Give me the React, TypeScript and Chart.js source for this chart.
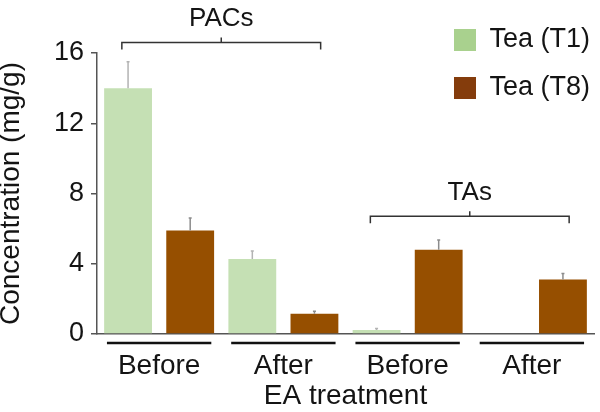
import React, { useEffect, useRef } from "react";
import { Chart, registerables } from "chart.js";

Chart.register(...registerables);

const categories = ["Before", "After", "Before", "After"];
const seriesLabels = ["Tea (T1)", "Tea (T8)"];
const t1Values = [14.0, 4.27, 0.23, 0];
const t8Values = [5.9, 1.15, 4.8, 3.1];
const t1Errors = [1.5, 0.45, 0.08, 0];
const t8Errors = [0.7, 0.15, 0.55, 0.35];
const yTicks = [0, 4, 8, 12, 16];
const xTitle = "EA treatment";
const yTitle = "Concentration (mg/g)";
const brackets = [
  { label: "PACs", from: 0, to: 1, level: 16.6 },
  { label: "TAs", from: 2, to: 3, level: 6.7 },
];

const FONT = "'Liberation Sans', Arial, Helvetica, sans-serif";
const barColors = ["#c5e0b4", "#964f00"];
const legendColors = ["#a9d18e", "#843c0c"];
const errColors = ["#b3b3b3", "#8c8c8c"];
const TEXT = "#141414";

const errorBarPlugin = {
  id: "errorBars",
  afterDatasetsDraw(chart: any) {
    const ctx = chart.ctx;
    const y = chart.scales.y;
    const errs = [t1Errors, t8Errors];
    const vals = [t1Values, t8Values];
    chart.data.datasets.forEach((_: any, di: number) => {
      const meta = chart.getDatasetMeta(di);
      meta.data.forEach((bar: any, i: number) => {
        const e = errs[di][i];
        if (!e) return;
        const top = y.getPixelForValue(vals[di][i] + e);
        const base = y.getPixelForValue(vals[di][i]);
        ctx.save();
        ctx.strokeStyle = errColors[di];
        ctx.lineWidth = 1.5;
        ctx.beginPath();
        ctx.moveTo(bar.x, base);
        ctx.lineTo(bar.x, top);
        ctx.moveTo(bar.x - 1.5, top);
        ctx.lineTo(bar.x + 1.5, top);
        ctx.stroke();
        ctx.restore();
      });
    });
  },
};

const annotationsPlugin = {
  id: "groupAnnotations",
  afterDraw(chart: any) {
    const ctx = chart.ctx;
    const x = chart.scales.x;
    const y = chart.scales.y;
    const catW = (chart.chartArea.right - chart.chartArea.left) / categories.length;
    ctx.save();
    // underlines
    ctx.strokeStyle = "#111";
    ctx.lineWidth = 2.5;
    const uy = chart.chartArea.bottom + 9;
    categories.forEach((_, i) => {
      const c = x.getPixelForValue(i);
      ctx.beginPath();
      ctx.moveTo(c - catW * 0.42, uy);
      ctx.lineTo(c + catW * 0.42, uy);
      ctx.stroke();
    });
    // brackets
    ctx.strokeStyle = "#333";
    ctx.lineWidth = 1.5;
    ctx.fillStyle = TEXT;
    ctx.font = `26px ${FONT}`;
    ctx.textAlign = "center";
    ctx.textBaseline = "alphabetic";
    brackets.forEach((b) => {
      const l = x.getPixelForValue(b.from) - catW * 0.3;
      const r = x.getPixelForValue(b.to) + catW * 0.3;
      const by = y.getPixelForValue(b.level);
      const mid = (l + r) / 2;
      ctx.beginPath();
      ctx.moveTo(l, by + 7);
      ctx.lineTo(l, by);
      ctx.lineTo(r, by);
      ctx.lineTo(r, by + 7);
      ctx.moveTo(mid, by);
      ctx.lineTo(mid, by - 5);
      ctx.stroke();
      ctx.fillText(b.label, mid, by - 16);
    });
    ctx.restore();
  },
};

const legendMover = {
  id: "legendMover",
  afterLayout(chart: any) {
    const lg = chart.legend;
    if (!lg) return;
    lg.left = chart.chartArea.right - 161;
    lg.right = chart.width;
    lg.top = 5.5;
    lg.bottom = chart.height;
    lg.width = lg.right - lg.left;
    lg.height = lg.bottom - lg.top;
  },
};

export default function App() {
  const ref = useRef<HTMLCanvasElement>(null);
  useEffect(() => {
    document.body.style.margin = "0";
    const chart = new Chart(ref.current as HTMLCanvasElement, {
      type: "bar",
      data: {
        labels: categories,
        datasets: [
          { label: seriesLabels[0], data: t1Values, backgroundColor: barColors[0], borderWidth: 0 },
          { label: seriesLabels[1], data: t8Values, backgroundColor: barColors[1], borderWidth: 0 },
        ],
      },
      options: {
        responsive: false,
        animation: false,
        layout: { padding: { top: 53, right: 6, left: 0, bottom: 0 } },
        datasets: { bar: { barPercentage: 0.77, categoryPercentage: 1.0 } },
        plugins: {
          tooltip: { enabled: false },
          legend: {
            position: "chartArea" as any,
            align: "start",
            labels: {
              boxWidth: 22,
              boxHeight: 22,
              padding: 21,
              color: TEXT,
              font: { family: FONT, size: 27 },
              generateLabels: (chart: any) =>
                chart.data.datasets.map((ds: any, i: number) => ({
                  text: ds.label,
                  fillStyle: legendColors[i],
                  strokeStyle: legendColors[i],
                  lineWidth: 0,
                  fontColor: TEXT,
                  hidden: false,
                  datasetIndex: i,
                })),
            },
          },
        },
        scales: {
          x: {
            grid: { display: false, drawTicks: false },
            border: { display: true, color: "#555", width: 1.5 },
            ticks: { color: TEXT, font: { family: FONT, size: 28 }, padding: 15, maxRotation: 0 },
            title: {
              display: true,
              text: xTitle,
              color: TEXT,
              font: { family: FONT, size: 28, lineHeight: 1.1 },
              padding: { top: 0, bottom: 0 },
            },
            afterFit: (s: any) => {
              s.height = 78;
            },
          },
          y: {
            min: 0,
            max: 16,
            afterBuildTicks: (s: any) => {
              s.ticks = yTicks.map((v) => ({ value: v }));
            },
            grid: { drawOnChartArea: false, drawTicks: true, tickLength: 6, color: "#555", lineWidth: 1.5 },
            border: { display: true, color: "#555", width: 1.5 },
            ticks: { color: TEXT, font: { family: FONT, size: 27 }, padding: 7 },
            title: {
              display: true,
              text: yTitle,
              color: TEXT,
              font: { family: FONT, size: 28, lineHeight: 0.82 },
              padding: { top: 0, bottom: 0 },
            },
            afterFit: (s: any) => {
              s.width = 97;
            },
          },
        },
      },
      plugins: [errorBarPlugin, annotationsPlugin, legendMover],
    });
    return () => chart.destroy();
  }, []);
  return (
    <div style={{ width: 600, height: 412 }}>
      <canvas ref={ref} width={600} height={412} />
    </div>
  );
}
